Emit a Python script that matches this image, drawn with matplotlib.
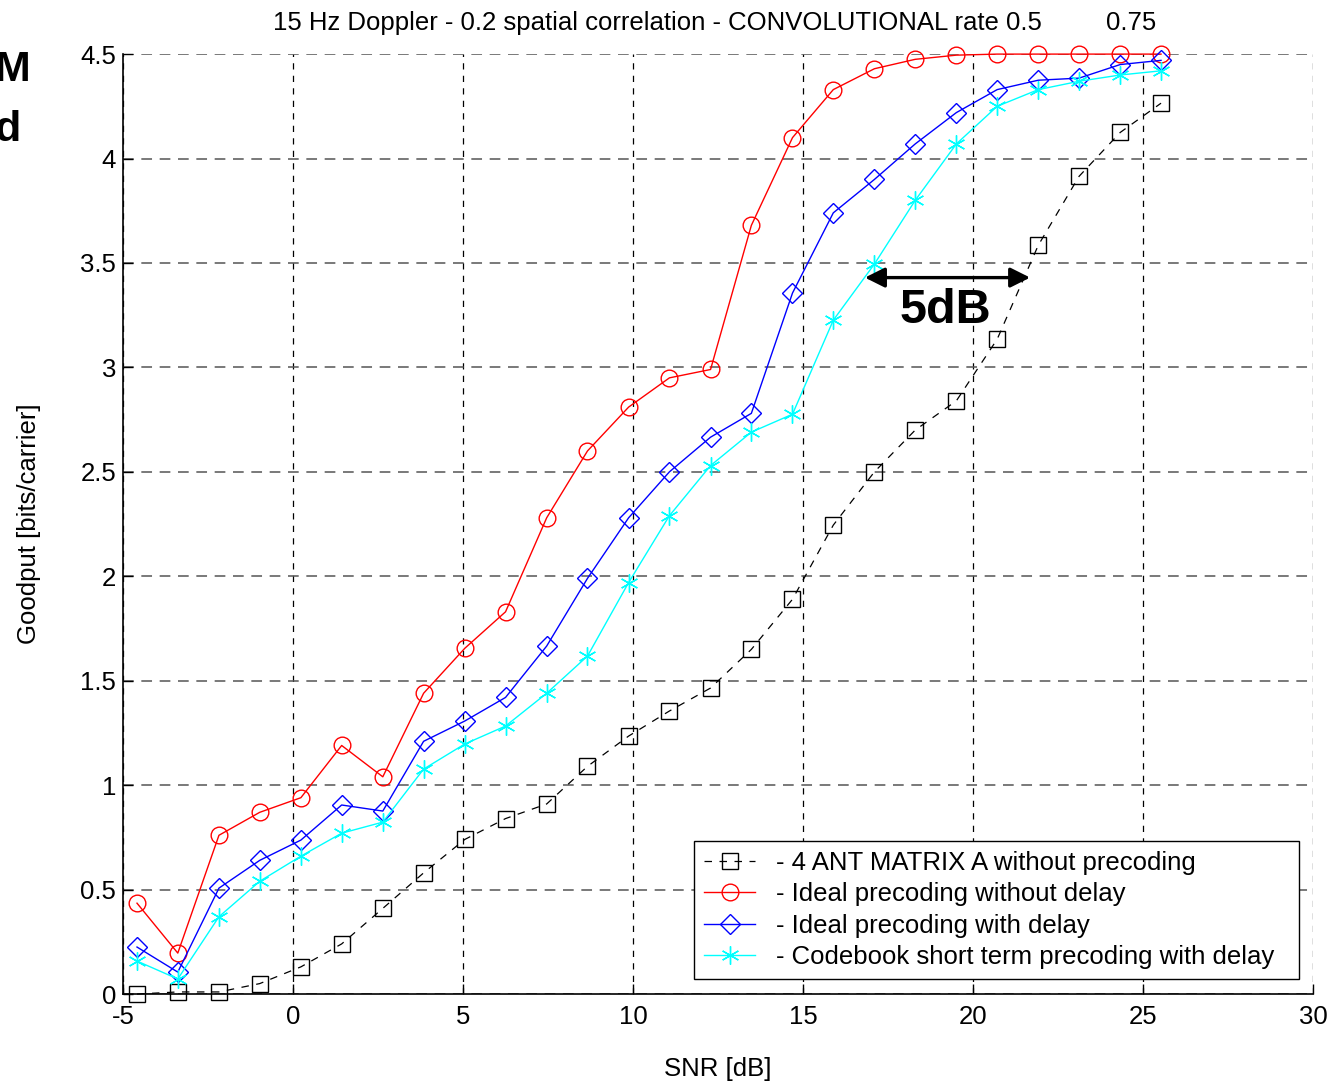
import matplotlib
matplotlib.use("Agg")
import matplotlib.pyplot as plt

plt.rcParams['font.family'] = ['Liberation Sans', 'DejaVu Sans']

# SNR sample points [dB]
snr = [-4.59, -3.39, -2.18, -0.98, 0.23, 1.43, 2.64, 3.84, 5.05, 6.25,
       7.46, 8.66, 9.87, 11.07, 12.28, 13.48, 14.69, 15.89, 17.10, 18.30,
       19.51, 20.71, 21.92, 23.12, 24.33, 25.53]

# Goodput [bits/carrier]
no_precoding = [0.00, 0.01, 0.01, 0.05, 0.13, 0.24, 0.41, 0.58, 0.74, 0.84,
                0.91, 1.09, 1.235, 1.355, 1.465, 1.65, 1.89, 2.245, 2.50, 2.70,
                2.84, 3.135, 3.585, 3.915, 4.125, 4.265]
ideal_no_delay = [0.435, 0.196, 0.76, 0.87, 0.94, 1.19, 1.04, 1.44, 1.655, 1.83,
                  2.28, 2.60, 2.81, 2.95, 2.99, 3.68, 4.10, 4.33, 4.43, 4.475,
                  4.495, 4.50, 4.50, 4.50, 4.50, 4.50]
ideal_delay = [0.225, 0.105, 0.507, 0.64, 0.737, 0.905, 0.876, 1.21, 1.307, 1.42,
               1.666, 1.99, 2.28, 2.50, 2.666, 2.78, 3.356, 3.74, 3.90, 4.07,
               4.22, 4.33, 4.375, 4.385, 4.45, 4.47]
codebook_delay = [0.158, 0.072, 0.37, 0.54, 0.66, 0.77, 0.823, 1.077, 1.197, 1.283,
                  1.44, 1.618, 1.97, 2.29, 2.53, 2.69, 2.776, 3.226, 3.495, 3.80,
                  4.07, 4.25, 4.33, 4.37, 4.40, 4.42]

labels = ['- 4 ANT MATRIX A without precoding  ',
          '- Ideal precoding without delay',
          '- Ideal precoding with delay',
          '- Codebook short term precoding with delay  ']

x_ticks = [-5, 0, 5, 10, 15, 20, 25, 30]
y_ticks = [0, 0.5, 1, 1.5, 2, 2.5, 3, 3.5, 4, 4.5]
y_tick_labels = ['0', '0.5', '1', '1.5', '2', '2.5', '3', '3.5', '4', '4.5']

# Annotated gap between the codebook curve and the unprecoded curve
gap_y = 3.43
gap_x0, gap_x1 = 16.82, 21.68

FS = 18.5

fig = plt.figure(figsize=(13.42, 10.82), dpi=100)
ax = fig.add_axes([0.0917, 0.0813, 0.8867, 0.8687])

common = dict(markerfacecolor='none', markeredgewidth=1.0, clip_on=False)
ax.plot(snr, no_precoding, color='black', linestyle=(0, (6, 6)), linewidth=0.9,
        marker='s', markersize=12, markeredgecolor='black', label=labels[0], **common)
ax.plot(snr, ideal_no_delay, color='red', linewidth=1.0,
        marker='o', markersize=12, markeredgecolor='red', label=labels[1], **common)
ax.plot(snr, ideal_delay, color='blue', linewidth=1.0,
        marker='D', markersize=10.5, markeredgecolor='blue', label=labels[2], **common)
ax.plot(snr, codebook_delay, color='cyan', linewidth=1.0,
        marker=(6, 2, 0), markersize=13, markeredgecolor='cyan', label=labels[3], **common)

ax.set_xlim(-5, 30)
ax.set_ylim(0, 4.5)
ax.set_xticks(x_ticks)
ax.set_xticklabels([str(t) for t in x_ticks])
ax.set_yticks(y_ticks)
ax.set_yticklabels(y_tick_labels)
ax.tick_params(direction='in', length=7, labelsize=FS, width=1, pad=5)
ax.tick_params(axis='x', pad=8)

ax.xaxis.grid(True, color='black', linestyle=(0, (5, 5)), linewidth=0.9)
ax.yaxis.grid(True, color='#555555', linestyle=(0, (7, 5)), linewidth=1.1)
ax.set_axisbelow(True)
for side in ('top', 'right'):
    ax.spines[side].set_visible(False)
for side in ('left', 'bottom'):
    ax.spines[side].set_linewidth(1.2)

ax.set_xlabel('SNR [dB]', fontsize=FS, labelpad=20)
ax.set_ylabel('Goodput [bits/carrier]', fontsize=FS, labelpad=28)
ax.set_title('15 Hz Doppler - 0.2 spatial correlation - CONVOLUTIONAL rate 0.5         0.75',
             fontsize=FS, pad=17, x=0.497)

ax.annotate('', xy=(gap_x0, gap_y), xytext=(gap_x1, gap_y),
            arrowprops=dict(arrowstyle='<|-|>', color='black', lw=2.4,
                            mutation_scale=30, shrinkA=0, shrinkB=0))
ax.text((gap_x0 + gap_x1) / 2 - 0.05, gap_y - 0.05, '5dB', ha='center', va='top',
        fontsize=35, fontweight='bold')

leg = ax.legend(loc='lower right', bbox_to_anchor=(0.988, 0.016), fontsize=FS,
                frameon=True, fancybox=False, edgecolor='black', framealpha=1,
                handlelength=2.0, handletextpad=0.8, labelspacing=0.28,
                borderpad=0.4, borderaxespad=0)
leg.get_frame().set_linewidth(1.0)

fig.text(30 / 1342, 1 - 70 / 1082, 'M', ha='right', va='center',
         fontsize=31, fontweight='bold')
fig.text(21 / 1342, 1 - 130 / 1082, 'd', ha='right', va='center',
         fontsize=31, fontweight='bold')

fig.savefig('out.png', dpi=100)
